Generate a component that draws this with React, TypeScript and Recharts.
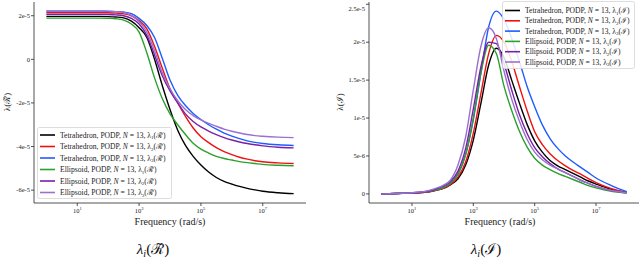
import React from "react";
import { LineChart, Line, XAxis, YAxis, Legend } from "recharts";

// Angular frequency (rad/s): half-decade at the ends, quarter-decade in between
const FREQ = [1, 3.162, 10, 31.62, 56.23, 100, 177.8, 316.2, 562.3, 1000, 1778, 3162, 5623, 10000, 17783, 31623, 56234, 100000, 177828, 316228, 562341, 1000000, 1778279, 3162278, 5623413, 10000000, 31622777, 100000000];

// Left panel: lambda(R~), values in units of 1e-5
const TET_R1 = [1.97, 1.97, 1.97, 1.97, 1.97, 1.96, 1.94, 1.9, 1.75, 1.45, 1.0, 0.0, -1.2, -2.3, -3.25, -3.95, -4.45, -4.85, -5.17, -5.42, -5.6, -5.72, -5.83, -5.92, -5.99, -6.05, -6.12, -6.16];
const TET_R2 = [2.15, 2.15, 2.15, 2.15, 2.15, 2.14, 2.12, 2.09, 2.0, 1.78, 1.4, 0.6, -0.4, -1.35, -2.0, -2.62, -3.15, -3.55, -3.82, -4.05, -4.23, -4.37, -4.49, -4.58, -4.65, -4.7, -4.75, -4.78];
const TET_R3 = [2.21, 2.21, 2.21, 2.21, 2.21, 2.2, 2.19, 2.17, 2.1, 1.88, 1.55, 1.0, 0.05, -0.95, -1.65, -2.12, -2.48, -2.76, -3.0, -3.2, -3.38, -3.52, -3.64, -3.74, -3.81, -3.86, -3.92, -3.95];
const ELL_R1 = [1.89, 1.89, 1.89, 1.89, 1.89, 1.88, 1.86, 1.8, 1.62, 1.25, 0.3, -0.85, -1.8, -2.5, -3.0, -3.45, -3.85, -4.12, -4.3, -4.45, -4.55, -4.62, -4.69, -4.74, -4.78, -4.82, -4.86, -4.88];
const ELL_R2 = [2.07, 2.07, 2.07, 2.07, 2.07, 2.06, 2.04, 2.0, 1.88, 1.62, 1.1, 0.2, -0.75, -1.45, -2.0, -2.5, -2.85, -3.1, -3.29, -3.45, -3.59, -3.7, -3.79, -3.86, -3.92, -3.97, -4.03, -4.06];
const ELL_R3 = [2.22, 2.22, 2.22, 2.22, 2.22, 2.21, 2.19, 2.15, 2.02, 1.72, 1.25, 0.4, -0.6, -1.35, -1.9, -2.3, -2.58, -2.78, -2.94, -3.07, -3.2, -3.3, -3.38, -3.45, -3.5, -3.53, -3.57, -3.59];

// Right panel: lambda(I), values in units of 1e-5
const TET_I1 = [0, 0.005, 0.01, 0.025, 0.045, 0.07, 0.12, 0.2, 0.38, 0.71, 1.2, 1.7, 1.92, 1.8, 1.5, 1.2, 0.92, 0.7, 0.55, 0.44, 0.37, 0.32, 0.27, 0.22, 0.17, 0.13, 0.06, 0.02];
const TET_I2 = [0, 0.005, 0.01, 0.025, 0.045, 0.07, 0.12, 0.22, 0.42, 0.8, 1.33, 1.85, 2.09, 2.0, 1.75, 1.42, 1.1, 0.82, 0.65, 0.53, 0.44, 0.37, 0.31, 0.26, 0.2, 0.15, 0.07, 0.02];
const TET_I3 = [0, 0.005, 0.015, 0.03, 0.05, 0.08, 0.14, 0.26, 0.52, 0.98, 1.6, 2.2, 2.41, 2.3, 2.05, 1.75, 1.42, 1.15, 0.91, 0.73, 0.6, 0.5, 0.42, 0.35, 0.28, 0.21, 0.11, 0.03];
const ELL_I1 = [0, 0.005, 0.012, 0.03, 0.05, 0.08, 0.14, 0.26, 0.52, 1.0, 1.6, 1.96, 1.85, 1.42, 1.1, 0.83, 0.62, 0.47, 0.38, 0.32, 0.27, 0.23, 0.19, 0.15, 0.11, 0.08, 0.035, 0.012];
const ELL_I2 = [0, 0.005, 0.012, 0.035, 0.06, 0.1, 0.16, 0.3, 0.6, 1.12, 1.68, 2.0, 1.98, 1.72, 1.37, 1.05, 0.8, 0.61, 0.49, 0.4, 0.33, 0.28, 0.23, 0.18, 0.14, 0.1, 0.045, 0.015];
const ELL_I3 = [0, 0.005, 0.015, 0.04, 0.07, 0.11, 0.18, 0.38, 0.75, 1.37, 1.95, 2.19, 2.05, 1.62, 1.25, 0.96, 0.72, 0.55, 0.45, 0.38, 0.33, 0.28, 0.23, 0.18, 0.14, 0.1, 0.045, 0.015];

const X_TICKS = [10, 1000, 100000, 10000000];
const LEFT_Y_TICKS = [-6, -4, -2, 0, 2];
const LEFT_Y_LABELS = ["-6e-5", "-4e-5", "-2e-5", "0", "2e-5"];
const RIGHT_Y_TICKS = [0, 0.5, 1, 1.5, 2, 2.5];
const RIGHT_Y_LABELS = ["0", "5e-6", "1e-5", "1.5e-5", "2e-5", "2.5e-5"];

const SERIES = [
  { key: "t1", shape: "Tetrahedron", idx: "1", color: "#000000" },
  { key: "t2", shape: "Tetrahedron", idx: "2", color: "#ee1111" },
  { key: "t3", shape: "Tetrahedron", idx: "3", color: "#1f5cff" },
  { key: "e1", shape: "Ellipsoid", idx: "1", color: "#2ca02c" },
  { key: "e2", shape: "Ellipsoid", idx: "2", color: "#7a1fa8" },
  { key: "e3", shape: "Ellipsoid", idx: "3", color: "#9a70d0" },
];

const LEFT_DATA = FREQ.map((f, i) => ({ f, t1: TET_R1[i], t2: TET_R2[i], t3: TET_R3[i], e1: ELL_R1[i], e2: ELL_R2[i], e3: ELL_R3[i] }));
const RIGHT_DATA = FREQ.map((f, i) => ({ f, t1: TET_I1[i], t2: TET_I2[i], t3: TET_I3[i], e1: ELL_I1[i], e2: ELL_I2[i], e3: ELL_I3[i] }));

const FONT = "'Liberation Serif', 'DejaVu Serif', serif";
const AX = "#262626";
const X_DOMAIN = [0.398, 251188643];

const XTick = (props: any) => {
  const { x, y, payload } = props;
  const exp = Math.round(Math.log10(payload.value));
  return (
    <text x={x} y={y + 5} textAnchor="middle" fontFamily={FONT} style={{ fontFamily: FONT }} fontSize={6.5} fill="#222">
      <tspan>10</tspan>
      <tspan dy={-3} fontSize={4.5}>{exp}</tspan>
    </text>
  );
};

const makeYTick = (ticks: number[], labels: string[]) => (props: any) => {
  const { x, y, payload } = props;
  const i = ticks.indexOf(payload.value);
  return (
    <text x={x} y={y} dy="0.35em" textAnchor="end" fontFamily={FONT} style={{ fontFamily: FONT }} fontSize={6.5} fill="#222">
      {labels[i]}
    </text>
  );
};

const LegendBox = ({ sym, w, h, y0, dy }: { sym: string; w: number; h: number; y0: number; dy: number }) => (
  <svg width={w} height={h} style={{ display: "block", overflow: "visible" }}>
    <rect x={0.5} y={0.5} width={w - 1} height={h - 1} rx={2} fill="#ffffff" fillOpacity={0.85} stroke="#d4d4d4" strokeWidth={0.8} />
    {SERIES.map((s, i) => {
      const yy = y0 + i * dy;
      return (
        <g key={s.key}>
          <line x1={3} x2={18} y1={yy} y2={yy} stroke={s.color} strokeWidth={1.6} />
          <text x={23} y={yy} dy="0.33em" fontFamily={FONT} style={{ fontFamily: FONT }} fontSize={7.6} fill="#222">
            <tspan>{s.shape}, PODP, </tspan>
            <tspan fontStyle="italic">N</tspan>
            <tspan> = 13, λ</tspan>
            <tspan dy={1.8} fontSize={5}>{s.idx}</tspan>
            <tspan dy={-1.8}>({sym})</tspan>
          </text>
        </g>
      );
    })}
  </svg>
);

const Panel = ({ data, yDomain, yTicks, yLabels, yWidth, right, sym, legendPos, yLabelX, xLabelX, captionX }: any) => (
  <LineChart width={320} height={272} data={data} margin={{ top: 2, right, bottom: 49, left: 0 }}>
    <XAxis
      dataKey="f"
      type="number"
      scale="log"
      domain={X_DOMAIN}
      allowDataOverflow
      ticks={X_TICKS}
      tick={<XTick />}
      tickSize={3}
      tickMargin={2}
      height={20}
      stroke={AX}
      strokeWidth={0.8}
      label={{
        content: () => (
          <text x={xLabelX} y={225} textAnchor="middle" fontFamily={FONT} style={{ fontFamily: FONT }} fontSize={10} fill="#222">
            Frequency (rad/s)
          </text>
        ),
      }}
    />
    <XAxis xAxisId="top" orientation="top" dataKey="f" type="number" scale="log" domain={X_DOMAIN} allowDataOverflow height={0} tick={false} tickLine={false} stroke={AX} strokeWidth={0.8} />
    <YAxis
      type="number"
      domain={yDomain}
      allowDataOverflow
      ticks={yTicks}
      tick={makeYTick(yTicks, yLabels)}
      tickSize={3}
      tickMargin={1}
      width={yWidth}
      stroke={AX}
      strokeWidth={0.8}
      label={{
        content: () => (
          <text x={yLabelX} y={102} transform={`rotate(-90 ${yLabelX} 102)`} textAnchor="middle" dy="0.35em" fontFamily={FONT} style={{ fontFamily: FONT }} fontSize={9} fill="#222">
            λ({sym})
          </text>
        ),
      }}
    />
    <YAxis yAxisId="r" orientation="right" type="number" domain={yDomain} width={0} tick={false} tickLine={false} stroke={AX} strokeWidth={0.8} />
    {SERIES.map((s) => (
      <Line key={s.key} dataKey={s.key} type="monotone" stroke={s.color} strokeWidth={1.4} dot={false} isAnimationActive={false} />
    ))}
    <Legend
      layout="vertical"
      align="center"
      verticalAlign="middle"
      wrapperStyle={{ left: legendPos.left, top: legendPos.top, width: legendPos.w, height: legendPos.h, lineHeight: 0 }}
      content={() => <LegendBox sym={sym} w={legendPos.w} h={legendPos.h} y0={legendPos.y0} dy={legendPos.dy} />}
    />
    <text x={captionX} y={254} textAnchor="middle" fontFamily={FONT} style={{ fontFamily: FONT }} fontSize={15} fill="#111">
      <tspan fontStyle="italic">λ</tspan>
      <tspan dy={3} fontSize={10} fontStyle="italic">i</tspan>
      <tspan dy={-3}>({sym})</tspan>
    </text>
  </LineChart>
);

export default function App() {
  return (
    <div style={{ position: "absolute", left: 0, top: 0, width: 640, height: 272, background: "#fff", overflow: "hidden" }}>
      <div style={{ position: "absolute", left: 0, top: 0 }}>
        <Panel
          data={LEFT_DATA}
          yDomain={[-6.59, 2.63]}
          yTicks={LEFT_Y_TICKS}
          yLabels={LEFT_Y_LABELS}
          yWidth={34}
          right={14}
          sym={"ℛ̃"}
          legendPos={{ left: 37, top: 127, w: 135, h: 72, y0: 8, dy: 11.5 }}
          yLabelX={7}
          xLabelX={170}
          captionX={153}
        />
      </div>
      <div style={{ position: "absolute", left: 320, top: 0 }}>
        <Panel
          data={RIGHT_DATA}
          yDomain={[-0.12, 2.53]}
          yTicks={RIGHT_Y_TICKS}
          yLabels={RIGHT_Y_LABELS}
          yWidth={49}
          right={1}
          sym={"ℐ"}
          legendPos={{ left: 182, top: 1, w: 133, h: 68, y0: 9.5, dy: 10.3 }}
          yLabelX={20}
          xLabelX={180}
          captionX={166}
        />
      </div>
    </div>
  );
}
